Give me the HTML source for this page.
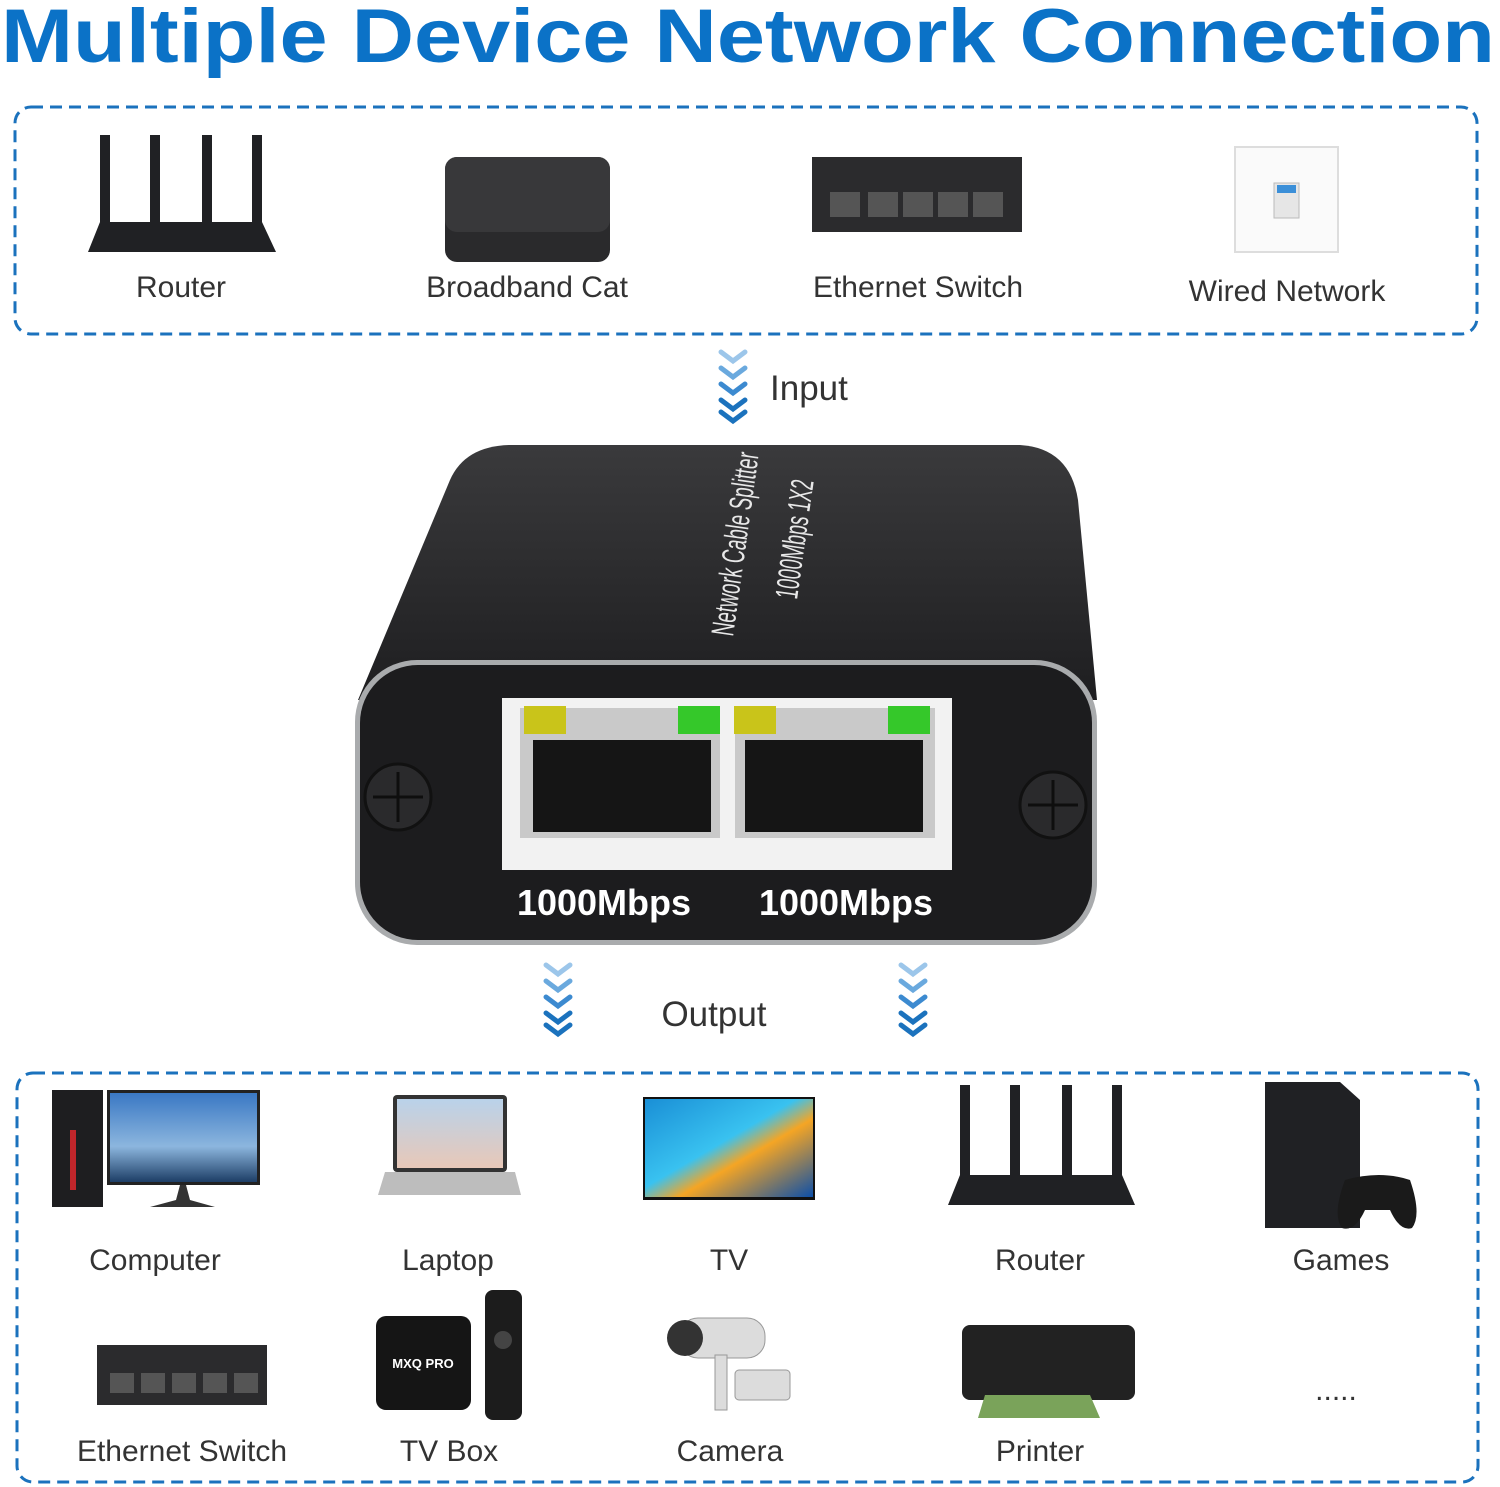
<!DOCTYPE html>
<html><head><meta charset="utf-8"><style>
html,body{margin:0;padding:0;background:#fff;}
svg{display:block}
text{font-family:"Liberation Sans",Arial,sans-serif}
</style></head><body>
<svg width="1500" height="1487" viewBox="0 0 1500 1487" xmlns="http://www.w3.org/2000/svg">
<defs>
<linearGradient id="tv" x1="0" y1="0" x2="1" y2="1"><stop offset="0" stop-color="#1a8fd6"/><stop offset="0.45" stop-color="#39c2f0"/><stop offset="0.6" stop-color="#f5a524"/><stop offset="1" stop-color="#0d4fa8"/></linearGradient>
<linearGradient id="mon" x1="0" y1="0" x2="0" y2="1"><stop offset="0" stop-color="#3a78c4"/><stop offset="0.6" stop-color="#8cb6de"/><stop offset="1" stop-color="#1d3e66"/></linearGradient>
<linearGradient id="lap" x1="0" y1="0" x2="0" y2="1"><stop offset="0" stop-color="#b9d2ea"/><stop offset="1" stop-color="#e8c8b8"/></linearGradient>
<linearGradient id="top" x1="0" y1="0" x2="0" y2="1"><stop offset="0" stop-color="#3a3a3c"/><stop offset="1" stop-color="#1e1e20"/></linearGradient>
<g id="chev"><path d="M-12,0 L0,9 L12,0" fill="none" stroke-width="5" stroke-linecap="round"/></g>
</defs>

<text x="748" y="62" text-anchor="middle" font-size="76" font-weight="bold" fill="#0b72c7" textLength="1494" lengthAdjust="spacingAndGlyphs">Multiple Device Network Connection</text>

<rect x="15" y="107" width="1462" height="227" rx="16" fill="none" stroke="#1b72bd" stroke-width="3" stroke-dasharray="12,7"/>
<rect x="17" y="1073" width="1461" height="409" rx="16" fill="none" stroke="#1b72bd" stroke-width="3" stroke-dasharray="12,7"/>

<g fill="#202124">
<rect x="100" y="135" width="10" height="90"/><rect x="150" y="135" width="10" height="90"/><rect x="202" y="135" width="10" height="90"/><rect x="252" y="135" width="10" height="90"/>
<path d="M100,222 L262,222 L276,252 L88,252 Z"/>
<rect x="445" y="157" width="165" height="105" rx="12" fill="#2a2a2c"/>
<rect x="445" y="157" width="165" height="75" rx="12" fill="#38383a"/>
<rect x="812" y="157" width="210" height="75" fill="#2b2b2d"/>
<g fill="#555"><rect x="830" y="192" width="30" height="25"/><rect x="868" y="192" width="30" height="25"/><rect x="903" y="192" width="30" height="25"/><rect x="938" y="192" width="30" height="25"/><rect x="973" y="192" width="30" height="25"/></g>
</g>
<rect x="1235" y="147" width="103" height="105" fill="#fafafa" stroke="#ddd" stroke-width="2"/>
<rect x="1274" y="183" width="25" height="35" fill="#e6e6e6" stroke="#bbb"/>
<rect x="1277" y="185" width="19" height="8" fill="#3b8fd8"/>

<g font-size="30" fill="#333" text-anchor="middle">
<text x="181" y="297">Router</text><text x="527" y="297">Broadband Cat</text><text x="918" y="297">Ethernet Switch</text><text x="1287" y="301">Wired Network</text>
</g>

<g>
<use href="#chev" x="733" y="352" stroke="#9cc6ea"/><use href="#chev" x="733" y="368" stroke="#6aa9de"/><use href="#chev" x="733" y="384" stroke="#3c8ad0"/><use href="#chev" x="733" y="400" stroke="#1b72bd"/><use href="#chev" x="733" y="412" stroke="#1b72bd"/>
</g>
<text x="770" y="400" font-size="35" fill="#333">Input</text>

<path d="M510,445 L1020,445 Q1070,448 1078,500 L1097,700 L358,700 L450,480 Q465,446 510,445 Z" fill="url(#top)"/>
<rect x="355" y="660" width="742" height="285" rx="62" fill="#a9abad"/>
<rect x="360" y="665" width="732" height="275" rx="58" fill="#1c1c1e"/>
<text transform="translate(733,637) rotate(-82)" font-size="32" fill="#e8e8e8" textLength="185" lengthAdjust="spacingAndGlyphs">Network Cable Splitter</text>
<text transform="translate(797,600) rotate(-82)" font-size="32" fill="#e8e8e8" textLength="120" lengthAdjust="spacingAndGlyphs">1000Mbps 1X2</text>
<rect x="502" y="698" width="450" height="172" fill="#f2f2f2"/>
<rect x="520" y="708" width="200" height="130" fill="#c9c9c9"/>
<rect x="735" y="708" width="200" height="130" fill="#c9c9c9"/>
<rect x="533" y="740" width="178" height="92" fill="#151515"/>
<rect x="745" y="740" width="178" height="92" fill="#151515"/>
<rect x="524" y="706" width="42" height="28" fill="#c9c41a"/><rect x="678" y="706" width="42" height="28" fill="#35c82a"/>
<rect x="734" y="706" width="42" height="28" fill="#c9c41a"/><rect x="888" y="706" width="42" height="28" fill="#35c82a"/>
<circle cx="398" cy="797" r="33" fill="#2a2a2c" stroke="#111" stroke-width="3"/><path d="M398,772 V822 M373,797 H423" stroke="#0e0e0e" stroke-width="3"/>
<circle cx="1053" cy="805" r="33" fill="#2a2a2c" stroke="#111" stroke-width="3"/><path d="M1053,780 V830 M1028,805 H1078" stroke="#0e0e0e" stroke-width="3"/>
<text x="604" y="915" text-anchor="middle" font-size="36" font-weight="bold" fill="#fff">1000Mbps</text>
<text x="846" y="915" text-anchor="middle" font-size="36" font-weight="bold" fill="#fff">1000Mbps</text>

<g>
<use href="#chev" x="558" y="965" stroke="#9cc6ea"/><use href="#chev" x="558" y="981" stroke="#6aa9de"/><use href="#chev" x="558" y="997" stroke="#3c8ad0"/><use href="#chev" x="558" y="1013" stroke="#1b72bd"/><use href="#chev" x="558" y="1025" stroke="#1b72bd"/>
<use href="#chev" x="913" y="965" stroke="#9cc6ea"/><use href="#chev" x="913" y="981" stroke="#6aa9de"/><use href="#chev" x="913" y="997" stroke="#3c8ad0"/><use href="#chev" x="913" y="1013" stroke="#1b72bd"/><use href="#chev" x="913" y="1025" stroke="#1b72bd"/>
</g>
<text x="714" y="1026" text-anchor="middle" font-size="35" fill="#333">Output</text>

<rect x="52" y="1090" width="51" height="117" fill="#1e1e20"/><rect x="70" y="1130" width="6" height="60" fill="#c0262b"/>
<rect x="107" y="1090" width="153" height="95" fill="#222"/><rect x="110" y="1093" width="147" height="89" fill="url(#mon)"/>
<path d="M180,1185 L186,1185 L190,1200 L215,1207 L150,1207 L176,1200 Z" fill="#333"/>
<rect x="393" y="1095" width="114" height="77" rx="4" fill="#333"/><rect x="397" y="1099" width="106" height="69" fill="url(#lap)"/>
<path d="M385,1172 L515,1172 L521,1195 L378,1195 Z" fill="#bdbdbd"/>
<rect x="643" y="1097" width="172" height="103" fill="#111"/><rect x="645" y="1099" width="168" height="98" fill="url(#tv)"/>
<g fill="#202124">
<rect x="960" y="1085" width="10" height="90"/><rect x="1010" y="1085" width="10" height="90"/><rect x="1062" y="1085" width="10" height="90"/><rect x="1112" y="1085" width="10" height="90"/>
<path d="M960,1175 L1122,1175 L1135,1205 L948,1205 Z"/>
<path d="M1265,1082 L1340,1082 L1360,1100 L1360,1228 L1265,1228 Z"/>
<path d="M1345,1180 Q1380,1170 1410,1180 Q1422,1215 1412,1228 Q1400,1232 1390,1210 L1365,1210 Q1355,1232 1342,1228 Q1332,1215 1345,1180 Z" fill="#1a1a1a"/>
</g>
<g font-size="30" fill="#333" text-anchor="middle">
<text x="155" y="1270">Computer</text><text x="448" y="1270">Laptop</text><text x="729" y="1270">TV</text><text x="1040" y="1270">Router</text><text x="1341" y="1270">Games</text>
</g>
<rect x="97" y="1345" width="170" height="60" fill="#2b2b2d"/>
<g fill="#555"><rect x="110" y="1373" width="24" height="20"/><rect x="141" y="1373" width="24" height="20"/><rect x="172" y="1373" width="24" height="20"/><rect x="203" y="1373" width="24" height="20"/><rect x="234" y="1373" width="24" height="20"/></g>
<rect x="376" y="1316" width="95" height="94" rx="10" fill="#151515"/>
<text x="423" y="1368" text-anchor="middle" font-size="13" font-weight="bold" fill="#fff">MXQ PRO</text>
<rect x="485" y="1290" width="37" height="130" rx="8" fill="#1c1c1c"/>
<circle cx="503" cy="1340" r="9" fill="#444"/>
<g fill="#dcdcdc" stroke="#999"><rect x="680" y="1318" width="85" height="40" rx="18"/><rect x="735" y="1370" width="55" height="30" rx="4"/><rect x="715" y="1355" width="12" height="55"/></g>
<circle cx="685" cy="1338" r="18" fill="#333"/>
<rect x="962" y="1325" width="173" height="75" rx="8" fill="#222"/>
<path d="M985,1395 L1090,1395 L1100,1418 L978,1418 Z" fill="#7aa35a"/>
<g font-size="30" fill="#333" text-anchor="middle">
<text x="182" y="1461">Ethernet Switch</text><text x="449" y="1461">TV Box</text><text x="730" y="1461">Camera</text><text x="1040" y="1461">Printer</text><text x="1336" y="1400">.....</text>
</g>
</svg>
</body></html>
